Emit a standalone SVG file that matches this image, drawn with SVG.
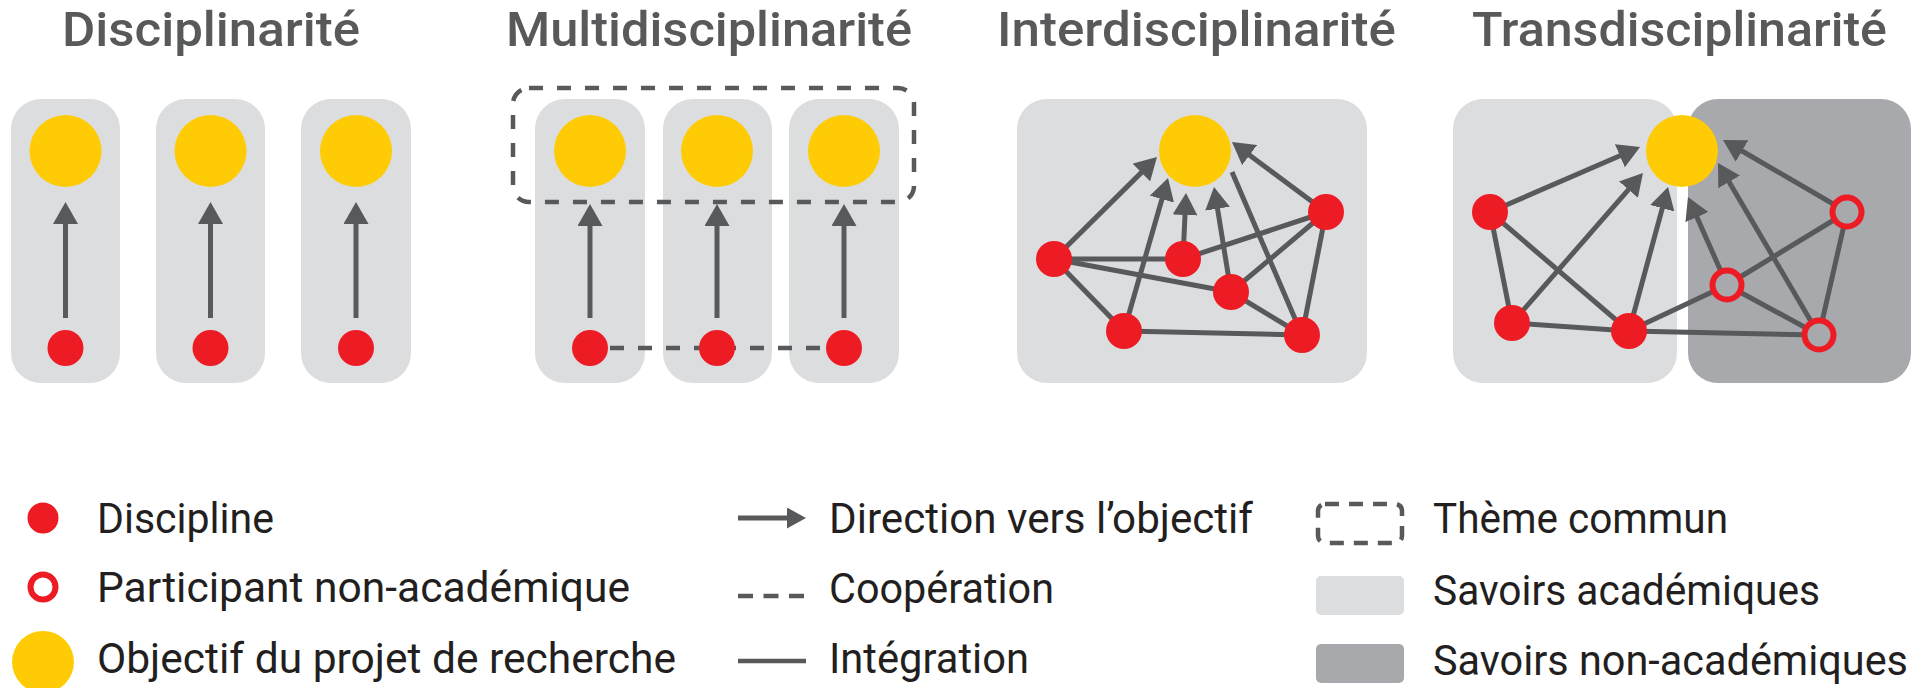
<svg xmlns="http://www.w3.org/2000/svg" width="1921" height="688" viewBox="0 0 1921 688">
<style>
.title{font-family:Roboto,"Liberation Sans",sans-serif;font-weight:500;font-size:48px;fill:#58595b}
.leg{font-family:Roboto,"Liberation Sans",sans-serif;font-size:42px;fill:#231f20}
.box{fill:#dcddde}
.dark{fill:#a7a9ac}
.goal{fill:#ffcb05}
.disc{fill:#ed1c24}
.non{fill:#a7a9ac;stroke:#ed1c24;stroke-width:6}
.arr{stroke:#58595b;stroke-width:5;fill:none;marker-end:url(#ah)}
.int{stroke:#58595b;stroke-width:5;fill:none}
.coop{stroke:#58595b;stroke-width:4.5;fill:none;stroke-dasharray:14 14}
</style>
<defs>
<marker id="ah" markerUnits="userSpaceOnUse" markerWidth="22" markerHeight="25" viewBox="0 0 22 25" refX="2" refY="12.5" orient="auto">
<path d="M0,0 L22,12.5 L0,25 z" fill="#58595b"/>
</marker>
<marker id="ahs" markerUnits="userSpaceOnUse" markerWidth="19" markerHeight="21" viewBox="0 0 19 21" refX="2" refY="10.5" orient="auto">
<path d="M0,0 L19,10.5 L0,21 z" fill="#58595b"/>
</marker>
</defs>

<!-- Titles -->
<text class="title" x="62" y="46" textLength="298" lengthAdjust="spacingAndGlyphs">Disciplinarité</text>
<text class="title" x="506" y="46" textLength="406" lengthAdjust="spacingAndGlyphs">Multidisciplinarité</text>
<text class="title" x="997" y="46" textLength="399" lengthAdjust="spacingAndGlyphs">Interdisciplinarité</text>
<text class="title" x="1472" y="46" textLength="415" lengthAdjust="spacingAndGlyphs">Transdisciplinarité</text>

<!-- Backgrounds -->
<g id="backgrounds">
<rect class="box" x="11" y="99" width="109" height="284" rx="30"/>
<rect class="box" x="156" y="99" width="109" height="284" rx="30"/>
<rect class="box" x="301" y="99" width="110" height="284" rx="30"/>
<rect class="box" x="535" y="99" width="110" height="284" rx="30"/>
<rect class="box" x="663" y="99" width="109" height="284" rx="30"/>
<rect class="box" x="789" y="99" width="110" height="284" rx="30"/>
<rect class="box" x="1017" y="99" width="350" height="284" rx="30"/>
<rect class="box" x="1453" y="99" width="224" height="284" rx="30"/>
<rect class="dark" x="1688" y="99" width="223" height="284" rx="30"/>
</g>

<!-- Connectors -->
<g id="connectors">
<line class="arr" x1="65.5" y1="318" x2="65.5" y2="222"/>
<line class="arr" x1="210.5" y1="318" x2="210.5" y2="222"/>
<line class="arr" x1="356" y1="318" x2="356" y2="222"/>

<rect x="513" y="88" width="401" height="114" rx="16" fill="none" stroke="#58595b" stroke-width="4.5" stroke-dasharray="14 14"/>
<line class="arr" x1="590" y1="318" x2="590" y2="224"/>
<line class="arr" x1="717" y1="318" x2="717" y2="224"/>
<line class="arr" x1="844" y1="318" x2="844" y2="224"/>
<line class="coop" x1="610" y1="348" x2="826" y2="348"/>

<line class="int" x1="1054" y1="259" x2="1183" y2="259"/>
<line class="int" x1="1054" y1="259" x2="1231" y2="292"/>
<line class="int" x1="1054" y1="259" x2="1124" y2="331"/>
<line class="int" x1="1124" y1="331" x2="1302" y2="335"/>
<line class="int" x1="1231" y1="292" x2="1302" y2="335"/>
<line class="int" x1="1326" y1="212" x2="1302" y2="335"/>
<line class="int" x1="1326" y1="212" x2="1183" y2="259"/>
<line class="int" x1="1326" y1="212" x2="1231" y2="292"/>
<line class="int" x1="1302" y1="335" x2="1232" y2="172"/>
<line class="arr" x1="1054" y1="259" x2="1142.8" y2="171.1"/>
<line class="arr" x1="1124" y1="331" x2="1162.5" y2="197.2"/>
<line class="arr" x1="1183" y1="259" x2="1185.1" y2="213"/>
<line class="arr" x1="1231" y1="292" x2="1217.2" y2="206.7"/>
<line class="arr" x1="1326" y1="212" x2="1248" y2="153.9"/>

<line class="int" x1="1490" y1="212" x2="1512" y2="323"/>
<line class="int" x1="1490" y1="212" x2="1629" y2="331"/>
<line class="int" x1="1512" y1="323" x2="1629" y2="331"/>
<line class="int" x1="1629" y1="331" x2="1819" y2="335"/>
<line class="int" x1="1629" y1="331" x2="1727" y2="285"/>
<line class="int" x1="1727" y1="285" x2="1819" y2="335"/>
<line class="int" x1="1727" y1="285" x2="1847" y2="212"/>
<line class="int" x1="1847" y1="212" x2="1819" y2="335"/>
<line class="arr" x1="1490" y1="212" x2="1621.7" y2="155"/>
<line class="arr" x1="1512" y1="323" x2="1629.8" y2="188.1"/>
<line class="arr" x1="1629" y1="331" x2="1662.8" y2="206.3"/>
<line class="arr" x1="1727" y1="285" x2="1696.1" y2="215.3"/>
<line class="arr" x1="1819" y1="335" x2="1728.1" y2="180.2"/>
<line class="arr" x1="1847" y1="212" x2="1740.3" y2="150"/>
</g>

<!-- Disciplinarite nodes -->
<g id="d-goal1"><circle class="goal" cx="65.5" cy="151" r="36"/></g>
<g id="d-goal2"><circle class="goal" cx="210.5" cy="151" r="36"/></g>
<g id="d-goal3"><circle class="goal" cx="356" cy="151" r="36"/></g>
<g id="d-disc1"><circle class="disc" cx="65.5" cy="348" r="18"/></g>
<g id="d-disc2"><circle class="disc" cx="210.5" cy="348" r="18"/></g>
<g id="d-disc3"><circle class="disc" cx="356" cy="348" r="18"/></g>

<!-- Multidisciplinarite nodes -->
<g id="m-goal1"><circle class="goal" cx="590" cy="151" r="36"/></g>
<g id="m-goal2"><circle class="goal" cx="717" cy="151" r="36"/></g>
<g id="m-goal3"><circle class="goal" cx="844" cy="151" r="36"/></g>
<g id="m-disc1"><circle class="disc" cx="590" cy="348" r="18"/></g>
<g id="m-disc2"><circle class="disc" cx="717" cy="348" r="18"/></g>
<g id="m-disc3"><circle class="disc" cx="844" cy="348" r="18"/></g>

<!-- Interdisciplinarite nodes -->
<g id="i-goal"><circle class="goal" cx="1195" cy="151" r="36"/></g>
<g id="i-a"><circle class="disc" cx="1054" cy="259" r="18"/></g>
<g id="i-b"><circle class="disc" cx="1183" cy="259" r="18"/></g>
<g id="i-c"><circle class="disc" cx="1231" cy="292" r="18"/></g>
<g id="i-d"><circle class="disc" cx="1326" cy="212" r="18"/></g>
<g id="i-e"><circle class="disc" cx="1124" cy="331" r="18"/></g>
<g id="i-f"><circle class="disc" cx="1302" cy="335" r="18"/></g>

<!-- Transdisciplinarite nodes -->
<g id="t-goal"><circle class="goal" cx="1682" cy="151" r="36"/></g>
<g id="t-p1"><circle class="disc" cx="1490" cy="212" r="18"/></g>
<g id="t-p2"><circle class="disc" cx="1512" cy="323" r="18"/></g>
<g id="t-p3"><circle class="disc" cx="1629" cy="331" r="18"/></g>
<g id="t-h1"><circle class="non" cx="1847" cy="212" r="14.5"/></g>
<g id="t-h2"><circle class="non" cx="1727" cy="285" r="14.5"/></g>
<g id="t-h3"><circle class="non" cx="1819" cy="335" r="14.5"/></g>

<!-- Legend -->
<g id="legend">
<circle class="disc" cx="43" cy="518" r="15.5"/>
<text class="leg" x="97" y="533" textLength="177" lengthAdjust="spacingAndGlyphs">Discipline</text>
<circle cx="43" cy="587" r="12.5" fill="#fff" stroke="#ed1c24" stroke-width="6"/>
<text class="leg" x="97" y="602" textLength="533" lengthAdjust="spacingAndGlyphs">Participant non-académique</text>
<circle class="goal" cx="43" cy="662" r="31"/>
<text class="leg" x="97" y="673" textLength="579" lengthAdjust="spacingAndGlyphs">Objectif du projet de recherche</text>

<line x1="738" y1="518" x2="789" y2="518" stroke="#58595b" stroke-width="5" marker-end="url(#ahs)"/>
<text class="leg" x="829" y="533" textLength="424" lengthAdjust="spacingAndGlyphs">Direction vers l’objectif</text>
<line x1="738" y1="596" x2="804" y2="596" stroke="#58595b" stroke-width="4.5" stroke-dasharray="15 10.5"/>
<text class="leg" x="829" y="603" textLength="225" lengthAdjust="spacingAndGlyphs">Coopération</text>
<line x1="738" y1="661" x2="806" y2="661" stroke="#58595b" stroke-width="4.5"/>
<text class="leg" x="829" y="673" textLength="200" lengthAdjust="spacingAndGlyphs">Intégration</text>

<rect x="1318" y="504" width="84" height="39" rx="7" fill="none" stroke="#58595b" stroke-width="4.5" stroke-dasharray="14 10"/>
<text class="leg" x="1433" y="533" textLength="295" lengthAdjust="spacingAndGlyphs">Thème commun</text>
<rect class="box" x="1316" y="576" width="88" height="39" rx="5"/>
<text class="leg" x="1433" y="605" textLength="387" lengthAdjust="spacingAndGlyphs">Savoirs académiques</text>
<rect class="dark" x="1316" y="644" width="88" height="39" rx="5"/>
<text class="leg" x="1433" y="675" textLength="475" lengthAdjust="spacingAndGlyphs">Savoirs non-académiques</text>
</g>
</svg>
